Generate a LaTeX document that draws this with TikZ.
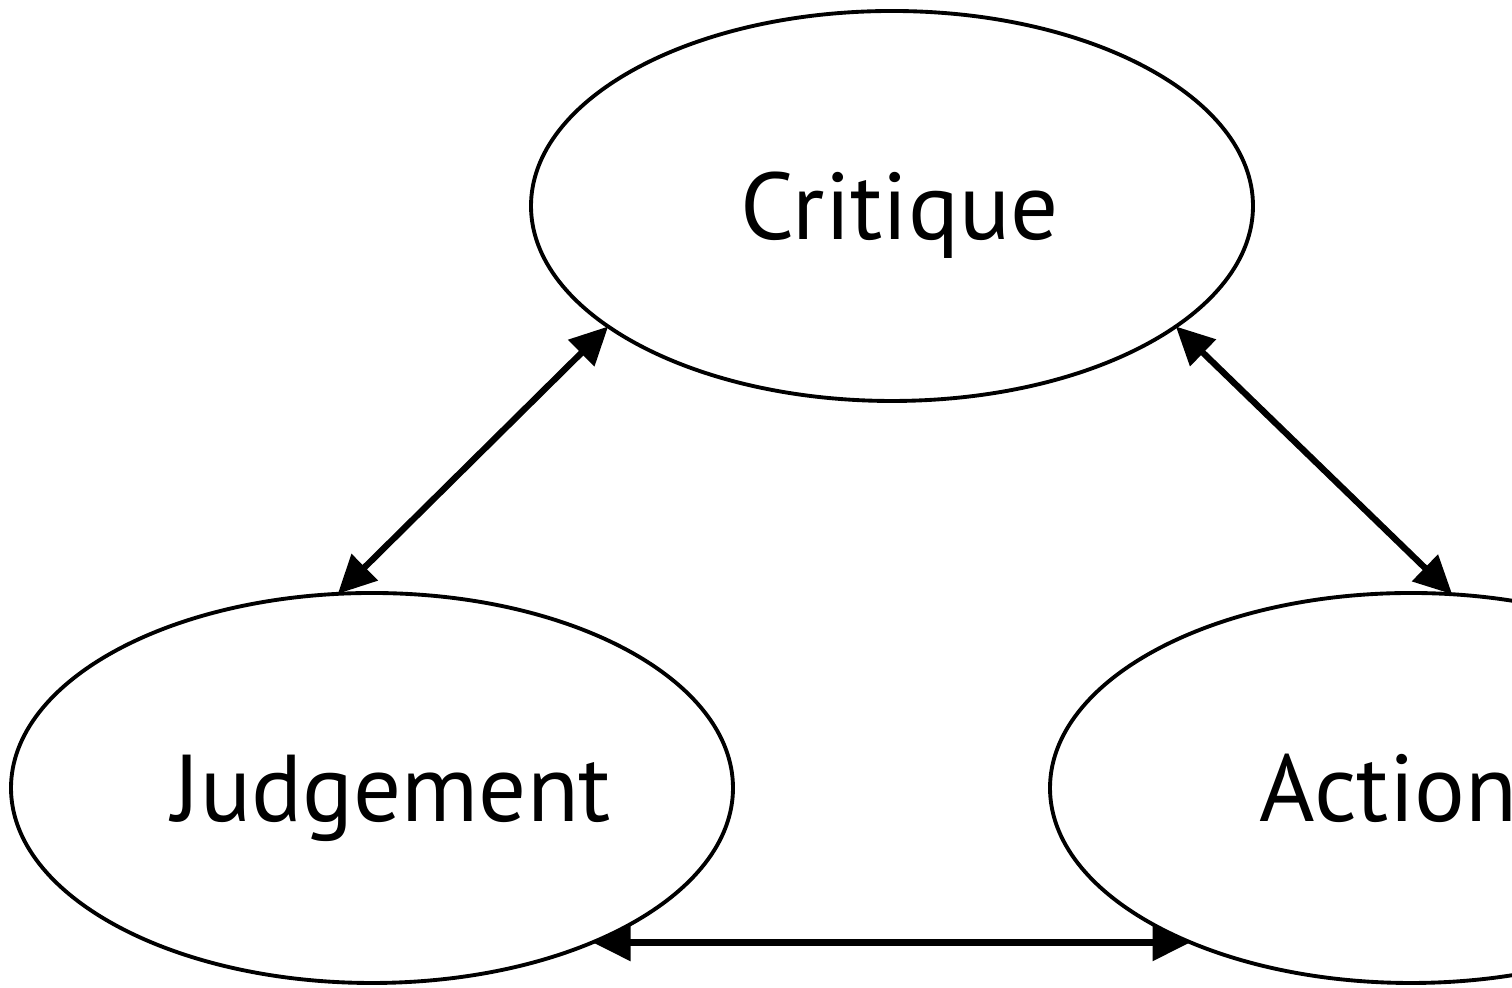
\documentclass[tikz,border=0pt]{standalone}
\usepackage{fontspec}
\setmainfont{PT Sans}
\usetikzlibrary{shapes.geometric,arrows.meta}

\begin{document}
\begin{tikzpicture}[bubble/.style={draw,ellipse,line width=1.1pt,minimum width=7.22cm,minimum height=3.9cm,inner sep=0pt,outer sep=0pt,text height=0.78cm,text depth=0.1cm,font=\fontsize{27}{30}\selectfont},
    link/.style={{Triangle[length=0.38cm,width=0.36cm]}-{Triangle[length=0.38cm,width=0.36cm]},line width=1.8pt}]
    \clip (0,0) rectangle (15.12,9.88);
    \draw (8.92,7.82) node[bubble] (crit) {\hspace*{0.15cm}Critique};
	\draw (3.72,2.00) node[bubble] (judg) {\hspace*{0.4cm}Judgement};
	\draw (14.11,2.00) node[bubble] (act) {\hspace*{-0.45cm}Action};
    \draw[link] (judg.100) -- (crit.203);
	\draw[link] (crit.337) -- (act.78);
	\draw[link] (judg.-35) -- (act.215);
\end{tikzpicture}
\end{document}
